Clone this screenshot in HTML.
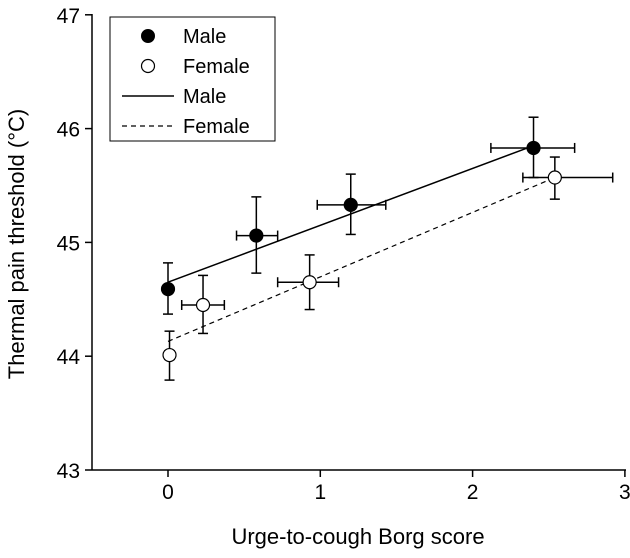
<!DOCTYPE html>
<html><head><meta charset="utf-8"><style>
body{margin:0;background:#fff}
svg text{font-family:"Liberation Sans",Arial,sans-serif;fill:#000}
</style></head><body>
<svg id="chart" width="630" height="553" xmlns="http://www.w3.org/2000/svg"></svg>
<script>
const maleX=[0,0.58,1.2,2.4];
const maleY=[44.59,45.06,45.33,45.83];
const maleXlo=[0,0.45,0.98,2.12];
const maleXhi=[0,0.72,1.43,2.67];
const maleYlo=[44.37,44.73,45.07,45.57];
const maleYhi=[44.82,45.40,45.60,46.10];
const femX=[0.01,0.23,0.93,2.54];
const femY=[44.01,44.45,44.65,45.57];
const femXlo=[-0.02,0.09,0.72,2.33];
const femXhi=[0.04,0.37,1.12,2.92];
const femYlo=[43.79,44.20,44.41,45.38];
const femYhi=[44.22,44.71,44.89,45.75];
const maleFit=[[0,44.65],[2.4,45.85]];
const femFit=[[0,44.13],[2.54,45.57]];
const xTicks=[0,1,2,3];
const yTicks=[43,44,45,46,47];

const svg=document.getElementById('chart');
const NS='http://www.w3.org/2000/svg';
const X=v=>168+(v)*152.3;
const Y=v=>470-(v-43)*113.8;
function el(t,a,p){const e=document.createElementNS(NS,t);for(const k in a)e.setAttribute(k,a[k]);(p||svg).appendChild(e);return e;}
let ax=el('line',{x1:92,y1:470,x2:626,y2:470,stroke:'#000','stroke-width':1.5});


let ay=el('line',{x1:92,y1:14,x2:92,y2:470,stroke:'#000','stroke-width':1.5});


xTicks.forEach(t=>{el('line',{x1:X(t),y1:470,x2:X(t),y2:477,stroke:'#000','stroke-width':1.5});
 const tx=el('text',{x:X(t),y:499,'text-anchor':'middle','font-size':21});tx.textContent=t;
 
 });
yTicks.forEach(t=>{el('line',{x1:85,y1:Y(t),x2:92,y2:Y(t),stroke:'#000','stroke-width':1.5});
 const tx=el('text',{x:80,y:Y(t)+8,'text-anchor':'end','font-size':21});tx.textContent=t;
 
 });
let xt=el('text',{x:358,y:544,'text-anchor':'middle','font-size':22});xt.textContent='Urge-to-cough Borg score';


let yt=el('text',{x:0,y:0,'text-anchor':'middle','font-size':22,transform:'translate(24,244) rotate(-90)'});yt.textContent='Thermal pain threshold (°C)';


let ml=el('line',{x1:X(maleFit[0][0]),y1:Y(maleFit[0][1]),x2:X(maleFit[1][0]),y2:Y(maleFit[1][1]),stroke:'#000','stroke-width':1.5});


let fl=el('line',{x1:X(femFit[0][0]),y1:Y(femFit[0][1]),x2:X(femFit[1][0]),y2:Y(femFit[1][1]),stroke:'#000','stroke-width':1.2,'stroke-dasharray':'5,4'});


function series(xs,ys,xl,xh,yl,yh,fill,name){
 xs.forEach((x,i)=>{
  const g=el('g',{});
  
  
  const c=5;
  el('line',{x1:X(x),y1:Y(yl[i]),x2:X(x),y2:Y(yh[i]),stroke:'#000','stroke-width':1.5},g);
  el('line',{x1:X(x)-c,y1:Y(yl[i]),x2:X(x)+c,y2:Y(yl[i]),stroke:'#000','stroke-width':1.5},g);
  el('line',{x1:X(x)-c,y1:Y(yh[i]),x2:X(x)+c,y2:Y(yh[i]),stroke:'#000','stroke-width':1.5},g);
  if(xh[i]-xl[i]>0.001){
   el('line',{x1:X(xl[i]),y1:Y(ys[i]),x2:X(xh[i]),y2:Y(ys[i]),stroke:'#000','stroke-width':1.5},g);
   el('line',{x1:X(xl[i]),y1:Y(ys[i])-c,x2:X(xl[i]),y2:Y(ys[i])+c,stroke:'#000','stroke-width':1.5},g);
   el('line',{x1:X(xh[i]),y1:Y(ys[i])-c,x2:X(xh[i]),y2:Y(ys[i])+c,stroke:'#000','stroke-width':1.5},g);
  }
  el('circle',{cx:X(x),cy:Y(ys[i]),r:6.5,fill:fill,stroke:'#000','stroke-width':1.2},g);
 });
}
series(femX,femY,femXlo,femXhi,femYlo,femYhi,'#fff','female');
series(maleX,maleY,maleXlo,maleXhi,maleYlo,maleYhi,'#000','male');
const lg=el('g',{});


el('rect',{x:110,y:17,width:165,height:124,fill:'#fff',stroke:'#000','stroke-width':1},lg);
el('circle',{cx:148,cy:36,r:6.5,fill:'#000',stroke:'#000'},lg);
el('circle',{cx:148,cy:66,r:6.5,fill:'#fff',stroke:'#000','stroke-width':1.2},lg);
el('line',{x1:122,y1:96,x2:174,y2:96,stroke:'#000','stroke-width':1.5},lg);
el('line',{x1:122,y1:126,x2:174,y2:126,stroke:'#000','stroke-width':1.2,'stroke-dasharray':'5,4'},lg);
['Male','Female','Male','Female'].forEach((s,i)=>{const t=el('text',{x:183,y:43+i*30,'font-size':20},lg);t.textContent=s;
 
 });
</script>
</body></html>
